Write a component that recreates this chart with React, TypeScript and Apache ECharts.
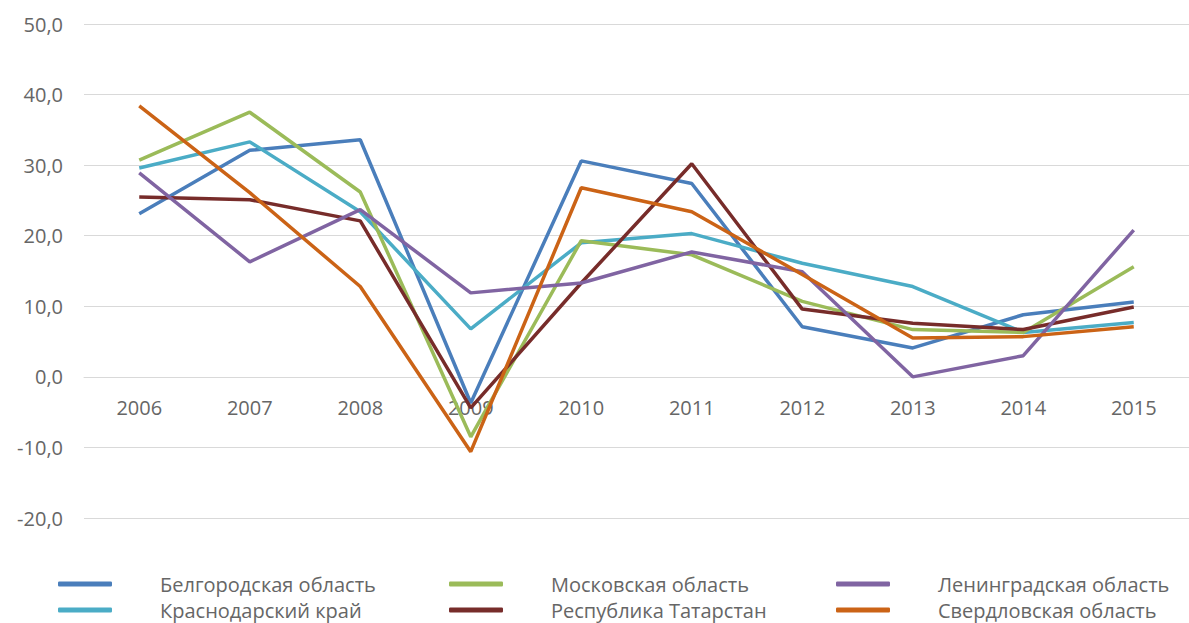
import React, { useEffect, useRef } from "react";
import * as echarts from "echarts";

const years = ["2006", "2007", "2008", "2009", "2010", "2011", "2012", "2013", "2014", "2015"];

const belgorod = [23.1, 32.1, 33.6, -3.7, 30.6, 27.4, 7.1, 4.1, 8.8, 10.6];
const krasnodar = [29.6, 33.3, 23.4, 6.8, 19.0, 20.3, 16.1, 12.8, 6.3, 7.7];
const moscow = [30.7, 37.5, 26.2, -8.5, 19.3, 17.3, 10.7, 6.7, 6.3, 15.6];
const tatarstan = [25.5, 25.1, 22.1, -4.4, 13.3, 30.2, 9.6, 7.6, 6.7, 9.9];
const leningrad = [28.9, 16.3, 23.7, 11.9, 13.3, 17.7, 14.9, 0.0, 3.0, 20.8];
const sverdlovsk = [38.4, 26.1, 12.8, -10.6, 26.8, 23.4, 14.5, 5.5, 5.7, 7.1];

const seriesNames = [
  "Белгородская область",
  "Краснодарский край",
  "Московская область",
  "Республика Татарстан",
  "Ленинградская область",
  "Свердловская область",
];
const seriesData = [belgorod, krasnodar, moscow, tatarstan, leningrad, sverdlovsk];
const colors = ["#4A7EBB", "#4BACC6", "#9BBB59", "#772C2A", "#8064A2", "#CB6316"];

const FONT = "'Open Sans', 'Noto Sans', sans-serif";

const legendLefts = [58, 58, 449, 449, 836, 836];
const legendTops = [573, 599, 573, 599, 573, 599];

export default function App() {
  const ref = useRef<HTMLDivElement>(null);
  useEffect(() => {
    if (!ref.current) return;
    const chart = echarts.init(ref.current, undefined, { renderer: "svg" });
    chart.setOption({
      animation: false,
      color: colors,
      grid: { left: 84, right: -6, top: 24, bottom: 105, containLabel: false },
      legend: seriesNames.map((name, i) => ({
        left: legendLefts[i],
        top: legendTops[i],
        padding: 0,
        itemWidth: 54,
        itemHeight: 5,
        icon: "roundRect",
        data: [name],
        textStyle: {
          fontFamily: FONT,
          fontSize: 20,
          color: "#666666",
          lineHeight: 22,
          padding: [0, 0, 0, 43],
        },
      })),
      xAxis: {
        type: "category",
        data: years,
        boundaryGap: true,
        offset: -141,
        axisLine: { show: true, onZero: false, lineStyle: { color: "#D9D9D9", width: 1 } },
        axisTick: { show: false },
        axisLabel: {
          fontFamily: FONT,
          fontSize: 20,
          color: "#666666",
          margin: 20,
        },
      },
      yAxis: {
        type: "value",
        min: -20,
        max: 50,
        interval: 10,
        axisLine: { show: false },
        axisTick: { show: false },
        splitLine: { lineStyle: { color: "#D9D9D9", width: 1 } },
        axisLabel: {
          fontFamily: FONT,
          fontSize: 20,
          color: "#666666",
          margin: 21,
          formatter: (v: number) => v.toFixed(1).replace(".", ","),
        },
      },
      series: seriesNames.map((name, i) => ({
        name,
        type: "line",
        data: seriesData[i],
        symbol: "none",
        lineStyle: { width: 3.5, color: colors[i] },
        itemStyle: { color: colors[i] },
      })),
    });
    return () => chart.dispose();
  }, []);
  return (
    <div
      ref={ref}
      style={{ position: "fixed", left: 0, top: 0, width: 1189, height: 623, background: "#fff" }}
    />
  );
}
